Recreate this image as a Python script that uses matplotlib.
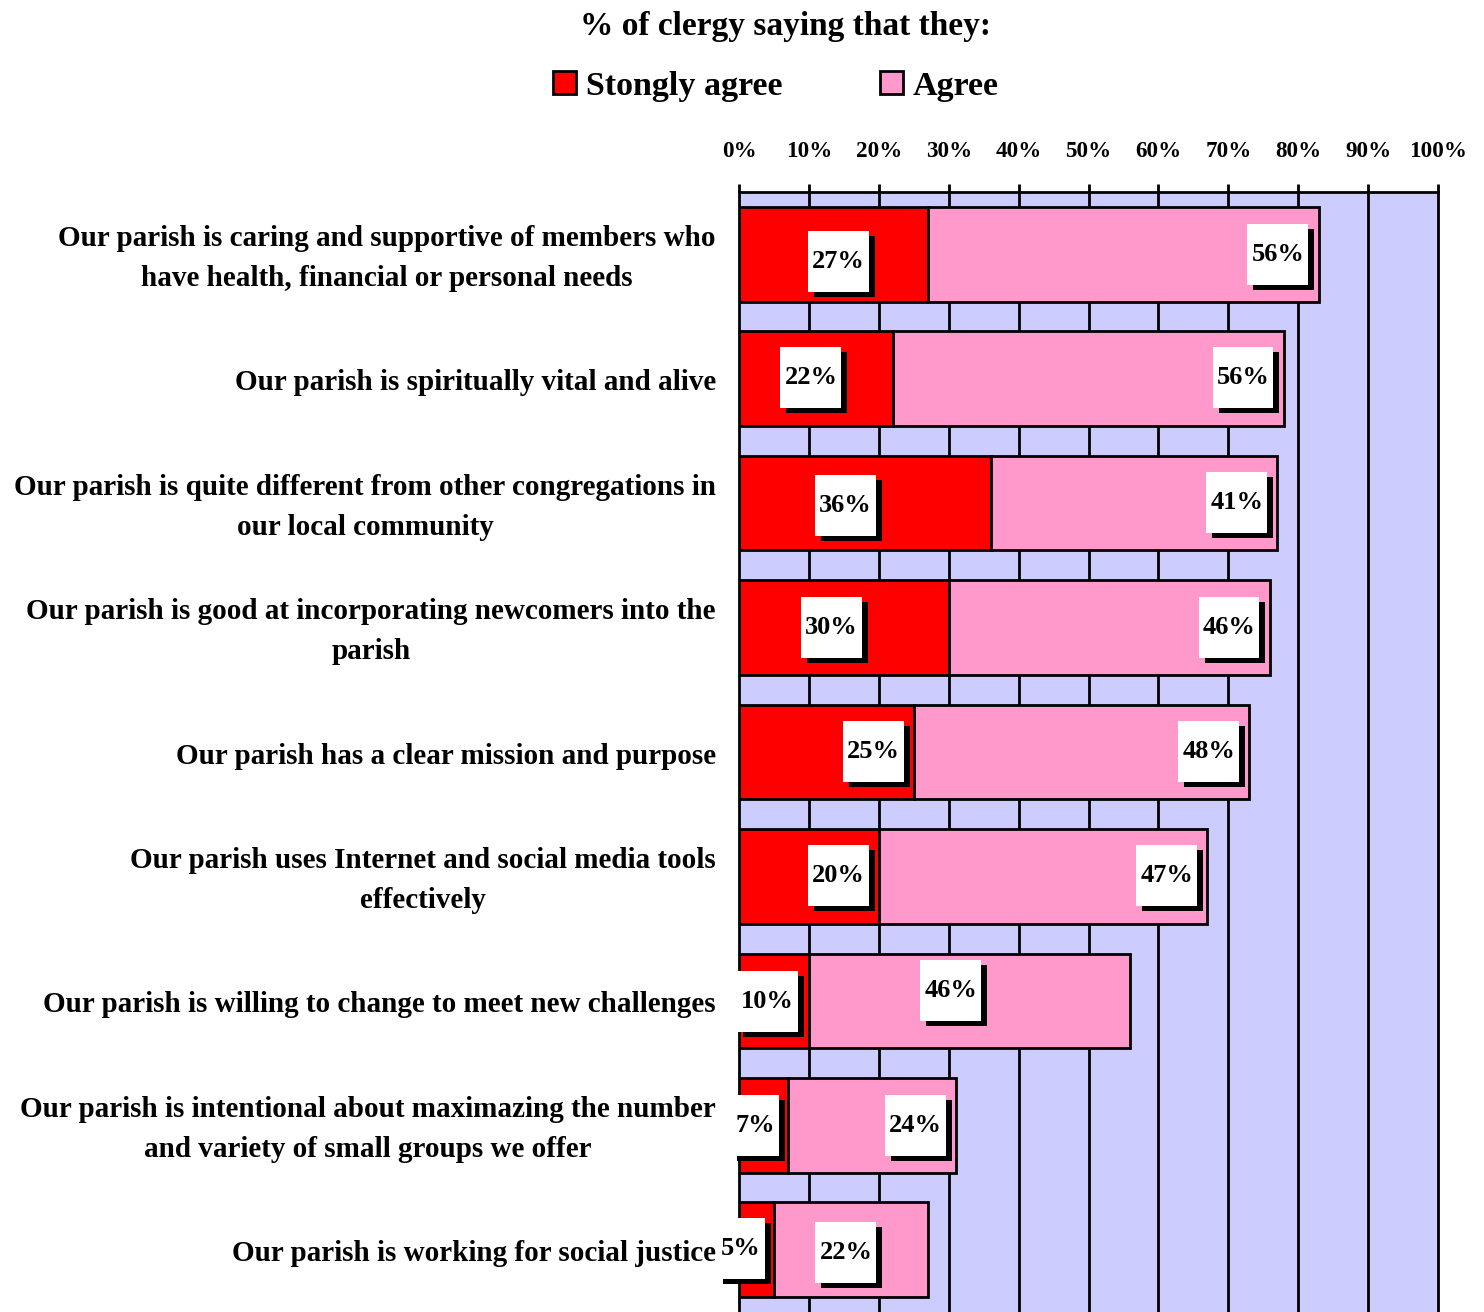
import matplotlib
matplotlib.use('Agg')
import matplotlib.pyplot as plt
from matplotlib.patches import Patch, Rectangle
from matplotlib.transforms import IdentityTransform, offset_copy
import numpy as np

plt.rcParams['font.family'] = ['Liberation Serif', 'DejaVu Serif']
plt.rcParams['font.weight'] = 'bold'

# data
statements = [
    "Our parish is caring and supportive of members who\nhave health, financial or personal needs",
    "Our parish is spiritually vital and alive",
    "Our parish is quite different from other congregations in\nour local community",
    "Our parish is good at incorporating newcomers into the\nparish",
    "Our parish has a clear mission and purpose",
    "Our parish uses Internet and social media tools\neffectively",
    "Our parish is willing to change to meet new challenges",
    "Our parish is intentional about maximazing the number\nand variety of small groups we offer",
    "Our parish is working for social justice",
]
strongly_agree = [27, 22, 36, 30, 25, 20, 10, 7, 5]
agree = [56, 56, 41, 46, 48, 47, 46, 24, 22]
series_names = ["Stongly agree", "Agree"]
tick_labels = ["0%", "10%", "20%", "30%", "40%", "50%", "60%", "70%", "80%", "90%", "100%"]

# label placement (x in %, y offset in px, + is up) - labels were moved by hand in the original
sa_label_x = [14.2, 10.3, 15.2, 13.2, 19.2, 14.2, 4.1, 2.3, 0.3]
sa_label_dy = [-5, 3, 0, 2, 3, 3, 1, 2, 3]
ag_label_x = [77.1, 72.1, 71.2, 70.1, 67.2, 61.2, 30.3, 25.2, 15.3]
ag_label_dy = [2, 3, 3, 2, 3, 3, 12, 2, -1]

RED = '#FF0000'
PINK = '#FF99CC'
BG = '#CCCCFF'

W, H = 1484, 1312
fig = plt.figure(figsize=(W / 100, H / 100), dpi=100)
ax = fig.add_axes([739 / W, 0, (1438 - 739) / W, 1 - 192 / H])
ax.set_facecolor(BG)

n = len(statements)
y = np.arange(n)
ax.set_ylim(n - 0.5, -0.5)
ax.set_xlim(0, 100)

for xv in range(10, 100, 10):
    ax.axvline(xv, color='black', lw=2, zorder=1)

ax.barh(y, strongly_agree, height=0.76, color=RED, edgecolor='black', lw=2, zorder=2)
ax.barh(y, agree, left=strongly_agree, height=0.76, color=PINK, edgecolor='black', lw=2, zorder=2)

ax.xaxis.tick_top()
ax.set_xticks(np.arange(0, 101, 10))
ax.set_xticklabels(tick_labels, fontsize=16.7, fontweight='bold')
ax.tick_params(axis='x', length=6, width=2, pad=15.5, color='black')
ax.set_yticks(y)
ax.set_yticklabels([])
ax.tick_params(axis='y', length=0)
for s in ['top', 'left', 'right']:
    ax.spines[s].set_linewidth(2)
ax.spines['bottom'].set_visible(False)

# category labels
lab_tr = offset_copy(ax.get_yaxis_transform(), fig=fig, x=0, y=-4, units='dots')
for i, s in enumerate(statements):
    ax.text(-0.033, i, s, transform=lab_tr, ha='right', va='center',
            multialignment='center', fontsize=21, fontweight='bold', linespacing=1.62)

# value labels with white box + black shadow
texts = []
for i in range(n):
    for xv, dy, val in [(sa_label_x[i], sa_label_dy[i], strongly_agree[i]),
                        (ag_label_x[i], ag_label_dy[i], agree[i])]:
        tr = offset_copy(ax.transData, fig=fig, x=0, y=dy - 2, units='dots')
        t = ax.text(xv, i, f"{val}%", transform=tr, ha='center', va='center',
                    fontsize=19, fontweight='bold', zorder=6, clip_on=False)
        texts.append(t)

fig.canvas.draw()
r = fig.canvas.get_renderer()
for t in texts:
    bb = t.get_window_extent(renderer=r)
    cx = (bb.x0 + bb.x1) / 2
    cy = (bb.y0 + bb.y1) / 2
    bw = bb.width + 8
    bh = 61
    ax.add_patch(Rectangle((cx - bw / 2 + 6, cy - bh / 2 - 5), bw, bh, transform=IdentityTransform(),
                           facecolor='black', edgecolor='none', zorder=4, clip_on=False))
    ax.add_patch(Rectangle((cx - bw / 2, cy - bh / 2), bw, bh, transform=IdentityTransform(),
                           facecolor='white', edgecolor='none', zorder=5, clip_on=False))

fig.text(786 / W, 1 - 27 / H, "% of clergy saying that they:", ha='center', va='center',
         fontsize=24, fontweight='bold')

handles = [Patch(facecolor=RED, edgecolor='black', lw=2),
           Patch(facecolor=PINK, edgecolor='black', lw=2)]
fig.legend(handles, series_names, loc='center', bbox_to_anchor=(776 / W, 1 - 86 / H), ncol=2,
           frameon=False, prop={'size': 24.5, 'weight': 'bold'}, handlelength=0.68, handleheight=0.68,
           handletextpad=0.3, columnspacing=2.85)

fig.savefig('out.png', dpi=100)
